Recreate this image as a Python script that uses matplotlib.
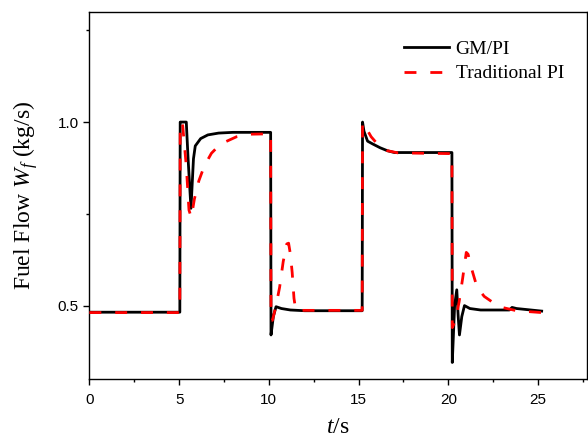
import matplotlib
matplotlib.use("Agg")
import matplotlib.pyplot as plt
from matplotlib.ticker import MultipleLocator

# GM/PI series
t_gm = [0, 5.04, 5.06, 5.4, 5.5, 5.66, 5.8, 5.9, 6.2, 6.6, 7.2, 8.0, 10.1,
        10.12, 10.25, 10.4, 10.7, 11.2, 12.0, 15.2,
        15.22, 15.3, 15.5, 15.8, 16.2, 16.6, 17.0, 20.2,
        20.22, 20.35, 20.47, 20.55, 20.62, 20.75, 20.9, 21.2, 21.8, 23.4, 23.55, 23.8, 25.2]
y_gm = [0.482, 0.482, 1.0, 1.0, 0.9, 0.765, 0.9, 0.935, 0.955, 0.965, 0.970, 0.972, 0.972,
        0.42, 0.47, 0.497, 0.492, 0.488, 0.486, 0.486,
        1.0, 0.975, 0.948, 0.940, 0.930, 0.922, 0.917, 0.917,
        0.345, 0.50, 0.543, 0.47, 0.42, 0.47, 0.50, 0.492, 0.488, 0.488, 0.495, 0.492, 0.485]

# Traditional PI series
t_pi = [0, 5.04, 5.06, 5.2, 5.4, 5.55, 5.68, 5.85, 6.1, 6.4, 6.8, 7.3, 8.2, 9.0, 10.1,
        10.12, 10.2, 10.4, 10.6, 10.8, 11.0, 11.1, 11.2, 11.3, 11.4, 11.5, 15.2,
        15.22, 15.4, 15.7, 16.0, 16.6, 17.2, 20.2,
        20.22, 20.4, 20.6, 20.8, 21.0, 21.1, 21.3, 21.6, 22.0, 22.5, 23.0, 23.8, 25.2]
y_pi = [0.481, 0.481, 1.0, 0.99, 0.88, 0.76, 0.74, 0.79, 0.84, 0.88, 0.915, 0.94, 0.96, 0.967, 0.968,
        0.46, 0.46, 0.50, 0.55, 0.62, 0.668, 0.67, 0.64, 0.59, 0.52, 0.487, 0.487,
        0.998, 0.985, 0.96, 0.943, 0.922, 0.916, 0.914,
        0.44, 0.46, 0.51, 0.575, 0.645, 0.64, 0.60, 0.55, 0.525, 0.508, 0.495, 0.486, 0.481]

x_ticks = [0, 5, 10, 15, 20, 25]
y_ticks = [0.5, 1.0]
y_tick_labels = ['0.5', '1.0']

plt.rcParams['mathtext.fontset'] = 'custom'
plt.rcParams['mathtext.rm'] = 'Liberation Serif'
plt.rcParams['mathtext.it'] = 'Liberation Serif:italic'

fig = plt.figure(figsize=(5.88, 4.38), dpi=100)
ax = fig.add_axes([0.152, 0.1347, 0.8455, 0.838])

ax.plot(t_gm, y_gm, color='black', lw=2.0, label='GM/PI', zorder=2)
ax.plot(t_pi, y_pi, color='red', lw=2.0, ls=(0, (4.3, 5.0)), label='Traditional PI', zorder=3)

ax.set_xlim(0, 27.7)
ax.set_ylim(0.3, 1.3)
ax.set_xticks(x_ticks)
ax.set_yticks(y_ticks)
ax.set_yticklabels(y_tick_labels)
ax.xaxis.set_minor_locator(MultipleLocator(2.5))
ax.yaxis.set_minor_locator(MultipleLocator(0.25))
ax.tick_params(which='major', direction='out', length=4, width=1,
               labelsize=11, labelfontfamily='Liberation Sans')
ax.tick_params(axis='x', which='major', pad=6)
ax.tick_params(which='minor', direction='out', length=2.5, width=1)
for s in ax.spines.values():
    s.set_linewidth(1.0)

ax.set_xlabel('$t$/s', fontsize=17, family='Liberation Serif', labelpad=7)
ax.set_ylabel('Fuel Flow $W_f$ (kg/s)', fontsize=17, family='Liberation Serif', labelpad=13)

leg = ax.legend(loc='upper left', bbox_to_anchor=(0.598, 0.97), frameon=False,
                prop={'family': 'Liberation Serif', 'size': 14},
                handlelength=2.3, handletextpad=0.35, labelspacing=0.35)

fig.savefig('out.png', dpi=100)
